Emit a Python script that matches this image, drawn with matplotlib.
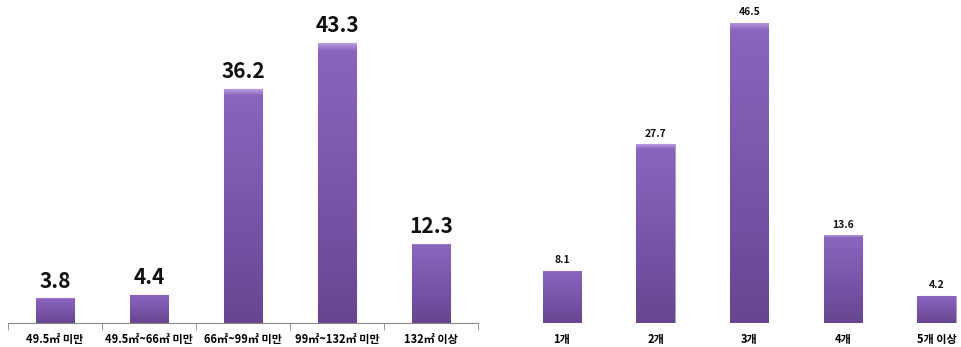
import numpy as np
import matplotlib.pyplot as plt
from matplotlib.colors import LinearSegmentedColormap

plt.rcParams['font.family'] = ['Noto Sans CJK KR', 'DejaVu Sans']

area_labels = ["49.5㎡ 미만", "49.5㎡~66㎡ 미만", "66㎡~99㎡ 미만", "99㎡~132㎡ 미만", "132㎡ 이상"]
area_values = [3.8, 4.4, 36.2, 43.3, 12.3]

count_labels = ["1개", "2개", "3개", "4개", "5개 이상"]
count_values = [8.1, 27.7, 46.5, 13.6, 4.2]

W, H = 961, 347
fig = plt.figure(figsize=(W / 100, H / 100), dpi=100)

# light rim at the top, then purple fading darker toward the base
cmap = LinearSegmentedColormap.from_list(
    "purp", [(0.0, "#b69ae0"), (0.025, "#8a65be"), (0.5, "#7a56ab"), (1.0, "#67468f")])
grad = np.linspace(0, 1, 256).reshape(-1, 1)


def draw_bars(ax, labels, values, fsize, offset):
    x = np.arange(len(values))
    bars = ax.bar(x, values, width=0.41, color="#7a56ab",
                  edgecolor="#a9a3b3", linewidth=0.8, zorder=2)
    for b in bars:
        x0, y0 = b.get_x(), b.get_y()
        im = ax.imshow(grad, cmap=cmap, aspect="auto", zorder=2.5, origin="upper",
                       extent=(x0, x0 + b.get_width(), y0, y0 + b.get_height()))
        im.set_clip_path(b)
    for xi, v in zip(x, values):
        ax.annotate(f"{v}", (xi, v), xytext=(0, offset), textcoords="offset points",
                    ha="center", va="bottom", fontsize=fsize, fontweight="bold",
                    color="#111111")
    ax.set_xticks(x)
    ax.set_xticklabels(labels, fontsize=8, fontweight="bold")
    ax.set_ylim(0, 50)
    ax.set_yticks([])
    for s in ["top", "right", "left"]:
        ax.spines[s].set_visible(False)


base = 24 / H
ax1 = fig.add_axes([8 / W, base, 470 / W, 323 / H])
draw_bars(ax1, area_labels, area_values, 15, 5)
ax1.set_xlim(-0.5, 4.5)
ax1.spines["bottom"].set_color("#888888")
ax1.tick_params(axis="x", length=0, pad=7)
ax1.set_xticks(np.arange(-0.5, 5, 1), minor=True)
ax1.tick_params(axis="x", which="minor", length=5, color="#888888")

ax2 = fig.add_axes([515 / W, base, 446 / W, 323 / H])
draw_bars(ax2, count_labels, count_values, 7.5, 4)
ax2.set_xlim(-0.5, 4.26)
ax2.spines["bottom"].set_visible(False)
ax2.tick_params(axis="x", length=0, pad=7)

fig.savefig("out.png", dpi=100)
